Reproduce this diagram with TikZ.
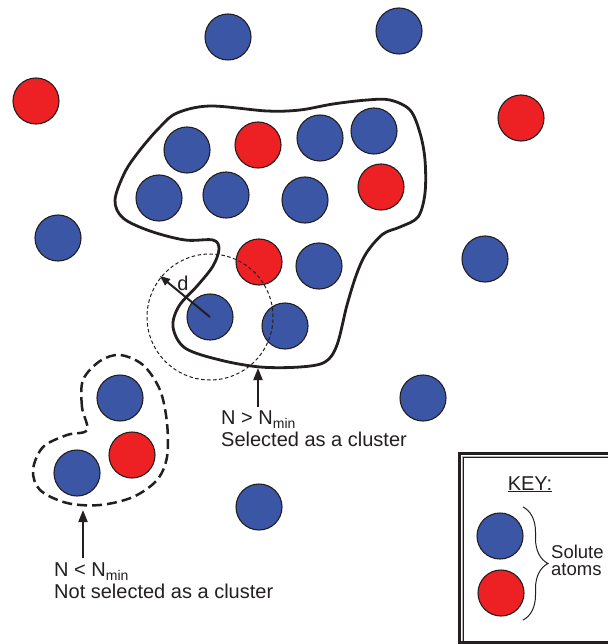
\documentclass[tikz,border=0pt]{standalone}
\usepackage{fontspec}
\setmainfont{Liberation Sans}
\usetikzlibrary{arrows.meta,decorations.pathreplacing}
\definecolor{atomblue}{RGB}{58,86,165}
\definecolor{atomred}{RGB}{237,32,36}
\definecolor{ink}{RGB}{35,31,32}
\newcommand\mysubmin{N\raisebox{-0.22em}{\fontsize{14}{14}\selectfont min}}
\begin{document}
\begin{tikzpicture}[x=1pt,y=-1pt,
  atom/.style={circle,draw=ink,line width=1.1pt,minimum size=46pt,inner sep=0pt},
  blueatom/.style={atom,fill=atomblue},
  redatom/.style={atom,fill=atomred},
  boundary/.style={draw=ink,line width=2.8pt,line join=round},
  lbl/.style={font=\fontsize{20}{22.5}\selectfont,text=ink,align=left,inner sep=0pt},
  pointer/.style={draw=ink,line width=2pt,-{Triangle[length=12pt,width=9pt]}}]
\useasboundingbox (0,0) rectangle (607,644);
\fill[white] (0,0) rectangle (607,644);

% free atoms
\node[blueatom] (f1) at (228,37) {};
\node[blueatom] (f2) at (399,31) {};
\node[redatom]  (f3) at (36,101) {};
\node[redatom]  (f4) at (521,118) {};
\node[blueatom] (f5) at (58,238) {};
\node[blueatom] (f6) at (485,259) {};
\node[blueatom] (f7) at (423,398) {};
\node[blueatom] (f8) at (259,507) {};

% large cluster
\node[blueatom] (c1) at (187,150) {};
\node[redatom]  (c2) at (258,145) {};
\node[blueatom] (c3) at (320,138) {};
\node[blueatom] (c4) at (374,131) {};
\node[blueatom] (c5) at (159,198) {};
\node[blueatom] (c6) at (226,195) {};
\node[blueatom] (c7) at (305,200) {};
\node[redatom]  (c8) at (381,187) {};
\node[redatom]  (c9) at (259,262) {};
\node[blueatom] (c10) at (319,266) {};
\node[blueatom] (c11) at (210,317) {};
\node[blueatom] (c12) at (285,326) {};

\draw[boundary] plot[smooth cycle,tension=0.55] coordinates {
 (115,200) (125,172) (140,150) (160,127) (177,113) (210,106) (267,111)
 (300,110) (333,104) (367,100) (390,100) (410,110) (420,133) (425,160)
 (425,193) (418,217) (400,227) (383,234) (367,252) (357,273) (347,305)
 (337,345) (325,362) (300,367) (260,367) (220,360) (185,348) (173,327)
 (179,306) (198,285) (213,266) (219,249) (213,240) (185,240) (150,231)
 (123,218)};

% cut-off distance
\draw[ink,line width=1pt,dash pattern=on 3.5pt off 2.5pt] (c11.center) circle [radius=63pt];
\coordinate (dtip) at (160,276);
\draw[ink,line width=2pt,-{Triangle[length=10pt,width=8pt]}] (c11.center) -- (dtip);
\node[lbl] (dlbl) at (183,283) {d};

% small cluster
\node[blueatom] (s1) at (120,398) {};
\node[redatom]  (s2) at (132,455) {};
\node[blueatom] (s3) at (77,473) {};
\draw[ink,line width=2.5pt,dash pattern=on 10pt off 5pt] plot[smooth cycle,tension=0.55] coordinates {
 (87,430) (82,407) (83,380) (100,361) (120,355) (143,365) (160,390)
 (167,423) (167,457) (157,480) (133,497) (100,505) (67,503) (40,490)
 (33,470) (43,447) (67,435)};

% labels and pointers
\node[lbl,anchor=north west] (sel) at (221,410.5) {N > \mysubmin\\Selected as a cluster};
\coordinate (selTail) at (258,407);
\coordinate (selTip) at (258,368);
\draw[pointer] (selTail) -- (selTip);

\node[lbl,anchor=north west] (nsel) at (54,562.5) {N < \mysubmin\\Not selected as a cluster};
\coordinate (nselTail) at (83,558);
\coordinate (nselTip) at (83,510);
\draw[pointer] (nselTail) -- (nselTip);

% key box
\draw[ink,line width=3pt] (459.5,650) -- (459.5,453.5) -- (615,453.5);
\draw[gray!60,line width=0.8pt] (462,641) -- (462,456) -- (615,456);
\draw[ink,line width=0.9pt] (463.5,641) -- (463.5,457.5) -- (615,457.5);
\draw[ink,line width=2.5pt] (458,642.5) -- (615,642.5);
\node[lbl,anchor=base] (key) at (530,490) {\underline{KEY:}};
\node[blueatom] (k1) at (500,536) {};
\node[redatom]  (k2) at (501,593) {};
\draw[ink,line width=1pt,decorate,decoration={brace,amplitude=25pt}] (523,507) -- (523,620);
\node[lbl,anchor=north west,font=\fontsize{18.5}{17}\selectfont] (sol) at (551,544.5) {Solute\\atoms};
\end{tikzpicture}
\end{document}
